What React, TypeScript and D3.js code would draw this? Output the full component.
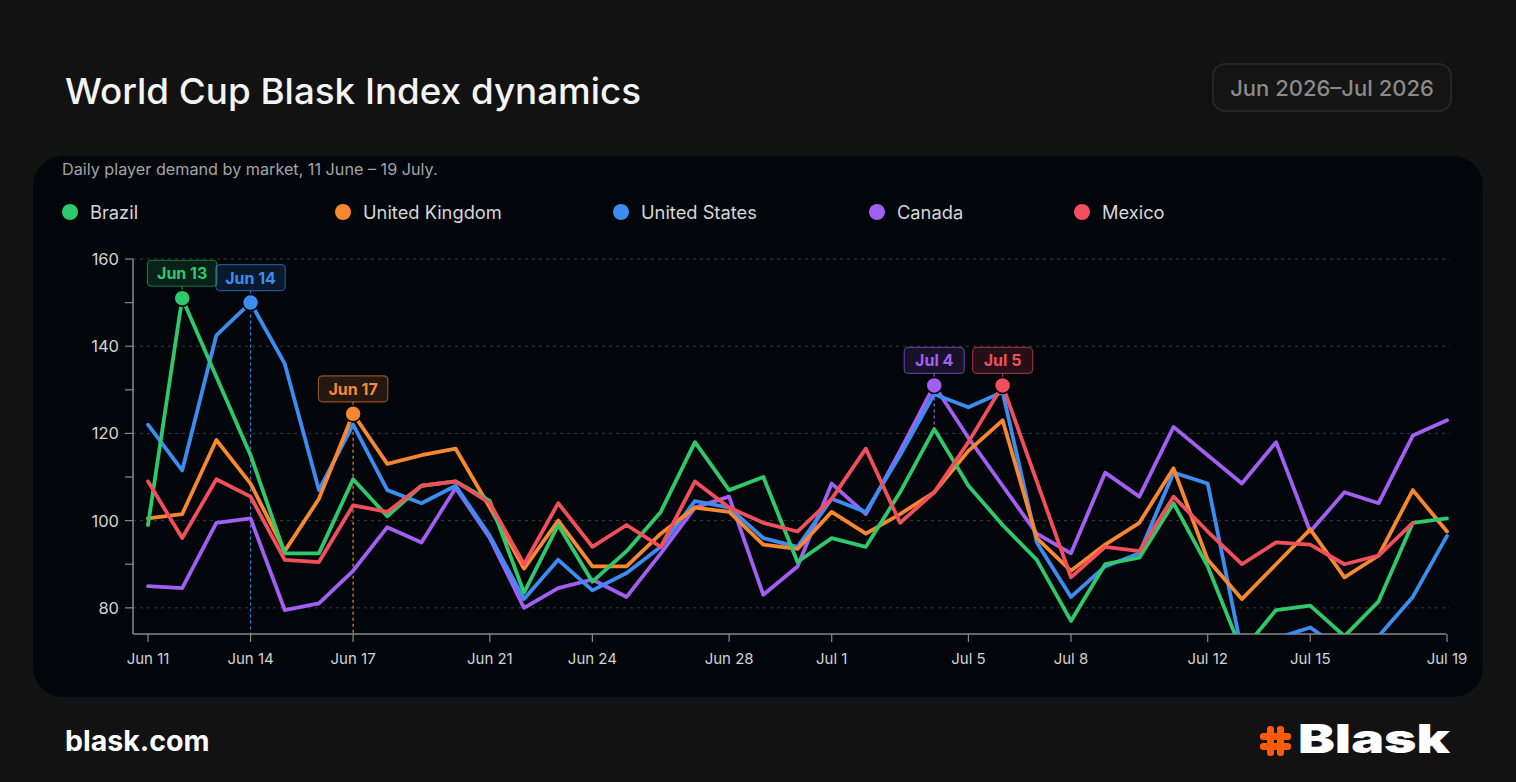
import React from 'react';
import * as d3 from 'd3';

// Jun 11 – Jul 19, one value per day
const START = '2026-06-11';
const END = '2026-07-19';

const markets = ['Brazil', 'United Kingdom', 'United States', 'Canada', 'Mexico'];
const colors = ['#2fc86a', '#f7882f', '#3c8df2', '#a35ef2', '#f24e5c'];

const brazil = [
  99, 151, 133, 115, 92.5, 92.5, 109.5, 101, 108, 109, 104.5, 83.5, 99, 86, 93, 102, 118, 107, 110, 90.5,
  96, 94, 106.5, 121, 108, 99, 91, 77, 90, 91.5, 104, 89.5, 70, 79.5, 80.5, 73.5, 81.5, 99.5, 100.5,
];
const unitedKingdom = [
  100.5, 101.5, 118.5, 108.5, 93, 105, 124.5, 113, 115, 116.5, 103, 89, 100, 89.5, 89.5, 97, 103, 102, 94.5, 93.5,
  102, 97, 101.5, 106.5, 116, 123, 96, 88.5, 94.5, 99.5, 112, 91, 82, 90, 98, 87, 92, 107, 97.5,
];
const unitedStates = [
  122, 111.5, 142.5, 150, 136, 107, 122, 107, 104, 108, 96.5, 82, 91, 84, 88, 94, 104.5, 103, 96, 94,
  105, 102, 115, 129, 126, 129.5, 95, 82.5, 89.5, 92.5, 111, 108.5, 70, 73, 75.5, 70, 73.5, 82.5, 96.5,
];
const canada = [
  85, 84.5, 99.5, 100.5, 79.5, 81, 88.5, 98.5, 95, 107.5, 96, 80, 84.5, 86.5, 82.5, 92.5, 103, 105.5, 83, 89.5,
  108.5, 101.5, 116, 131, 119, 108, 97, 92.5, 111, 105.5, 121.5, 115, 108.5, 118, 97.5, 106.5, 104, 119.5, 123,
];
const mexico: (number | null)[] = [
  109, 96, 109.5, 105.5, 91, 90.5, 103.5, 102, 108, 109, 104, 90, 104, 94, 99, 94, 109, 103, 99.5, 97.5,
  105, 116.5, 99.5, 106.5, 118, 131, 109, 87, 94, 93, 105.5, 97.5, 90, 95, 94.5, 90, 92, 99.5, null,
];

const seriesValues = [brazil, unitedKingdom, unitedStates, canada, mexico];
// drawing order, back to front
const drawOrder = [3, 2, 1, 0, 4];

const xTickDates = [
  '2026-06-11', '2026-06-14', '2026-06-17', '2026-06-21', '2026-06-24', '2026-06-28',
  '2026-07-01', '2026-07-05', '2026-07-08', '2026-07-12', '2026-07-15', '2026-07-19',
];
const yTickValues = [80, 100, 120, 140, 160];
const yMinorValues = [90, 110, 130, 150];

// peak callouts: which market, label text, drop line
const peakSeries = [0, 2, 1, 3, 4];
const peakLabels = ['Jun 13', 'Jun 14', 'Jun 17', 'Jul 4', 'Jul 5'];
const peakDrop = ['none', 'full', 'full', 'short', 'none'];

const W = 1516;
const H = 782;
const FONT = 'Inter, "Noto Sans", sans-serif';
const LEGEND_X = [70, 343, 621, 877, 1082];

export default function App() {
  const days = d3.utcDay.range(new Date(START), d3.utcDay.offset(new Date(END), 1));

  const x = d3.scaleUtc()
    .domain([new Date(START), new Date(END)])
    .range([148, 1447]);

  const y = d3.scaleLinear()
    .domain([74, 160])
    .range([634, 259]);

  const line = d3.line<number | null>()
    .defined(d => d != null)
    .x((_, i) => x(days[i]))
    .y(d => y(d as number));

  const fmt = d3.utcFormat('%b %-d');
  const plotLeft = 133;
  const plotRight = 1450;

  return (
    <div style={{ position: 'fixed', inset: 0, background: '#121212' }}>
      <svg width={W} height={H} style={{ display: 'block' }} fontFamily={FONT}>
        <rect width={W} height={H} fill="#121212" />

        <text x={65} y={104} fill="#f4f4f4" fontSize={36} fontWeight={500}
          textLength={576} lengthAdjust="spacingAndGlyphs">
          World Cup Blask Index dynamics
        </text>

        <rect x={1213} y={64} width={238} height={47} rx={12} fill="#151515" stroke="#2a2a2a" strokeWidth={1.5} />
        <text x={1332} y={96} textAnchor="middle" fill="#8a8a8a" fontSize={22} fontWeight={500}>
          Jun 2026–Jul 2026
        </text>

        <rect x={33} y={156} width={1450} height={541} rx={30} fill="#03060b" />

        <text x={62} y={175} fill="#a3a3a3" fontSize={16.2}>
          Daily player demand by market, 11 June – 19 July.
        </text>

        {markets.map((m, i) => (
          <g key={m}>
            <circle cx={LEGEND_X[i]} cy={212} r={8} fill={colors[i]} />
            <text x={LEGEND_X[i] + 20} y={218.5} fill="#d6d6d6" fontSize={18.3}>{m}</text>
          </g>
        ))}

        <defs>
          <clipPath id="plot">
            <rect x={plotLeft} y={240} width={plotRight - plotLeft + 10} height={634 - 240} />
          </clipPath>
        </defs>

        {/* grid */}
        {yTickValues.map(v => (
          <line key={v} x1={plotLeft} x2={plotRight} y1={y(v)} y2={y(v)}
            stroke="#3a3a3a" strokeWidth={1} strokeDasharray="3,4" />
        ))}

        {/* y axis */}
        <line x1={plotLeft} x2={plotLeft} y1={259} y2={634} stroke="#8a8a8a" strokeWidth={1.5} />
        {[...yTickValues, ...yMinorValues].map(v => (
          <line key={'t' + v} x1={plotLeft - 8} x2={plotLeft} y1={y(v)} y2={y(v)} stroke="#8a8a8a" strokeWidth={1.2} />
        ))}
        {yTickValues.map(v => (
          <text key={'l' + v} x={119} y={y(v) + 6} textAnchor="end" fill="#d4d4d4" fontSize={16.5}>{v}</text>
        ))}

        {/* x axis */}
        <line x1={plotLeft} x2={1446} y1={634} y2={634} stroke="#8a8a8a" strokeWidth={1.5} />
        {xTickDates.map(s => {
          const d = new Date(s);
          return (
            <g key={s}>
              <line x1={x(d)} x2={x(d)} y1={634} y2={642} stroke="#8a8a8a" strokeWidth={1.2} />
              <text x={x(d)} y={664} textAnchor="middle" fill="#d4d4d4" fontSize={15}>{fmt(d)}</text>
            </g>
          );
        })}

        {/* drop lines */}
        {peakSeries.map((si, k) => {
          if (peakDrop[k] === 'none') return null;
          const vals = seriesValues[si];
          const idx = d3.maxIndex(vals, v => v ?? -Infinity);
          const px = x(days[idx]);
          const py = y(vals[idx] as number);
          const bottom = peakDrop[k] === 'full' ? 634 : py + 48;
          return (
            <line key={'drop' + k} x1={px} x2={px} y1={py} y2={bottom}
              stroke={colors[si]} strokeWidth={1.3} strokeDasharray="3,3" opacity={0.9} />
          );
        })}

        {/* series */}
        <g clipPath="url(#plot)">
          {drawOrder.map(si => (
            <path key={markets[si]} d={line(seriesValues[si]) ?? ''} fill="none"
              stroke={colors[si]} strokeWidth={3.8} strokeLinejoin="round" strokeLinecap="round" />
          ))}
        </g>

        {/* peak callouts */}
        {peakSeries.map((si, k) => {
          const vals = seriesValues[si];
          const idx = d3.maxIndex(vals, v => v ?? -Infinity);
          const px = x(days[idx]);
          const py = y(vals[idx] as number);
          const label = peakLabels[k];
          const bw = label.length * 9.4 + 13;
          return (
            <g key={'peak' + k}>
              <line x1={px} x2={px} y1={py - 12} y2={py - 8} stroke={colors[si]} strokeWidth={1.2} opacity={0.7} />
              <rect x={px - bw / 2} y={py - 38} width={bw} height={26} rx={4}
                fill={colors[si]} fillOpacity={0.14} stroke={colors[si]} strokeOpacity={0.55} strokeWidth={1.2} />
              <text x={px} y={py - 19} textAnchor="middle" fill={colors[si]} fontSize={16} fontWeight={700}>
                {label}
              </text>
              <circle cx={px} cy={py} r={8} fill={colors[si]} stroke="#03060b" strokeWidth={1.5} />
            </g>
          );
        })}

        {/* footer */}
        <text x={65} y={751} fill="#ffffff" fontSize={28.5} fontWeight={700}>blask.com</text>

        <g transform="translate(1260,726)" fill="#ff5a0a">
          <rect x={7} y={0} width={7} height={30} rx={3} />
          <rect x={17} y={0} width={7} height={30} rx={3} />
          <rect x={0} y={7} width={31} height={7} rx={3} />
          <rect x={0} y={17} width={31} height={7} rx={3} />
        </g>
        <text x={1298} y={753} fill="#ffffff" fontSize={40} fontWeight={900}
          textLength={152} lengthAdjust="spacingAndGlyphs">Blask</text>
      </svg>
    </div>
  );
}
